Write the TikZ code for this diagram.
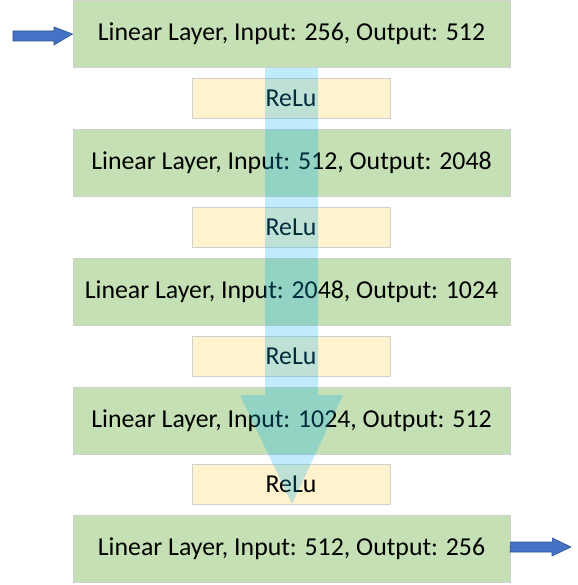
\documentclass[tikz,border=0pt]{standalone}
\usepackage{fontspec}
\setmainfont{Carlito}
\definecolor{layergreen}{RGB}{197,224,180}
\definecolor{relucream}{RGB}{255,242,204}
\definecolor{boxedge}{RGB}{208,208,208}
\definecolor{flowblue}{RGB}{0,176,240}
\definecolor{ioblue}{RGB}{68,114,196}
\definecolor{ioedge}{RGB}{47,82,143}
\tikzset{
  layer/.style={draw=boxedge, line width=0.8pt, fill=layergreen,
    minimum width=437pt, minimum height=67pt, inner sep=0pt,
    font=\fontsize{25.8}{30}\selectfont},
  relu/.style={draw=boxedge, line width=0.8pt, fill=relucream,
    minimum width=198pt, minimum height=40pt, inner sep=0pt,
    font=\fontsize{25.8}{30}\selectfont},
  ioarrow/.style={fill=ioblue, draw=ioedge, line width=0.6pt},
  flow/.style={fill=flowblue, fill opacity=0.25}
}
\begin{document}
\begin{tikzpicture}[x=1pt,y=-1pt]
\useasboundingbox (0,0) rectangle (577,585);
% linear layers
\node[layer] (l1) at (291.5,34)    {Linear Layer, Input: 256, Output: 512};
\node[layer] (l2) at (291.5,162.5) {Linear Layer, Input: 512, Output: 2048};
\node[layer] (l3) at (291.5,291.5) {Linear Layer, Input: 2048, Output: 1024};
\node[layer] (l4) at (291.5,420.5) {Linear Layer, Input: 1024, Output: 512};
\node[layer] (l5) at (291.5,548.5) {Linear Layer, Input: 512, Output: 256};
% activations
\node[relu] (r1) at (291,98)  {ReLu};
\node[relu] (r2) at (291,227) {ReLu};
\node[relu] (r3) at (291,356) {ReLu};
\node[relu] (r4) at (291,484) {ReLu};
% translucent data-flow arrow
\fill[flow] (265,68) -- (318,68) -- (318,395) -- (343,395) -- (292,504)
  -- (240,395) -- (265,395) -- cycle;
% input and output arrows
\coordinate (inA) at (13,36);
\coordinate (outB) at (571,547);
\fill[ioarrow] (inA) ++(0,-5) -- ++(41,0) -- ++(0,-4) -- (l1.west) -- (54,45) -- ++(0,-4) -- ++(-41,0) -- cycle;
\fill[ioarrow] (l5.east |- outB) ++(0,-5) -- ++(42,0) -- ++(0,-4) -- (outB) -- (552,556) -- ++(0,-4) -- ++(-42,0) -- cycle;
\end{tikzpicture}
\end{document}
